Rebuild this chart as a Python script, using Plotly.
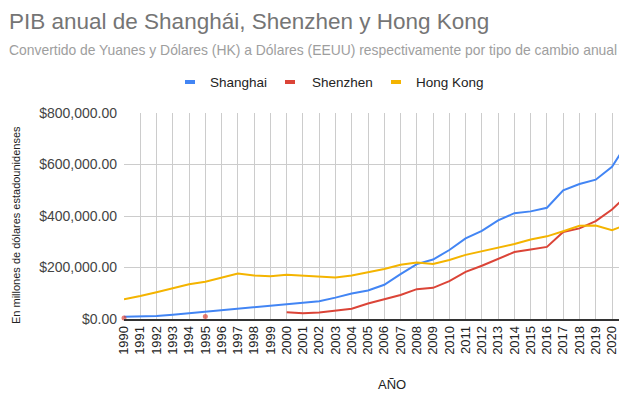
import plotly.graph_objects as go

# Annual GDP, millions of US dollars
years = list(range(1990, 2022))

shanghai = [9000, 10000, 12000, 16500, 22500, 29000, 35000, 41000, 46000, 51000,
            58000, 63000, 69000, 83000, 99000, 111000, 133000, 174000, 213000, 231000,
            268000, 313000, 342000, 383000, 411000, 418000, 432000, 500000, 524000, 541000,
            591000, 690000]

shenzhen = [4000, None, None, None, None, 10000, None, None, None, None,
            26500, 22000, 25000, 33000, 40000, 60000, 76000, 93000, 116000, 121000,
            147000, 183000, 207000, 235000, 260000, 270000, 280000, 338000, 352000, 380000,
            425000, 485000]

hong_kong = [77000, 89000, 104000, 120000, 135000, 145000, 160000, 177000, 169000, 166000,
             172000, 169000, 166000, 161000, 169000, 181000, 194000, 211000, 219000, 214000,
             229000, 249000, 263000, 276000, 291000, 309000, 321000, 341000, 362000, 363000,
             345000, 369000]

series = [
    ("Shanghai", shanghai, "#4285F4"),
    ("Shenzhen", shenzhen, "#DB4437"),
    ("Hong Kong", hong_kong, "#F4B400"),
]

W, H = 619, 394
ML, MR, MT, MB = 124, 0, 113, 75
PW, PH = W - ML - MR, H - MT - MB


def px(x):
    return (x - ML) / PW


def py(y):
    return (H - MB - y) / PH


def isolated_sizes(vals, size=5):
    out = []
    for i, v in enumerate(vals):
        prev_v = vals[i - 1] if i > 0 else None
        next_v = vals[i + 1] if i < len(vals) - 1 else None
        out.append(size if v is not None and prev_v is None and next_v is None else 0)
    return out


fig = go.Figure()
for name, vals, color in series:
    fig.add_trace(go.Scatter(
        x=years, y=vals, name=name, mode="lines+markers",
        line=dict(color=color, width=2),
        marker=dict(color=color, size=isolated_sizes(vals), line=dict(width=0)),
        connectgaps=False, showlegend=False, cliponaxis=False,
    ))


def note(text, x, y, size, color, family="Liberation Sans", xanchor="left", angle=0):
    return dict(text=text, x=px(x), y=py(y), xref="paper", yref="paper",
                xanchor=xanchor, yanchor="middle", showarrow=False, textangle=angle,
                font=dict(family=family, size=size, color=color))


annotations = [
    note("PIB anual de Shanghái, Shenzhen y Hong Kong", 7, 21, 22.5, "#757575"),
    note("Convertido de Yuanes y Dólares (HK) a Dólares (EEUU) respectivamente por tipo de cambio anual",
         7, 50, 13.9, "#9e9e9e"),
    note("AÑO", 392, 384, 13, "#222", xanchor="center"),
    note("En millones de dólares estadounidenses", 16, 225, 11, "#222", xanchor="center", angle=-90),
]

# Custom legend row
shapes = []
legend_items = [(190, 208), (290, 310), (396, 414)]
for (sw_x, tx_x), (name, _, color) in zip(legend_items, series):
    shapes.append(dict(type="rect", xref="paper", yref="paper",
                       x0=px(sw_x - 5), x1=px(sw_x + 5), y0=py(84), y1=py(80),
                       fillcolor=color, line=dict(width=0)))
    annotations.append(note(name, tx_x, 82, 13.5, "#222"))

fig.update_layout(
    width=W, height=H,
    margin=dict(l=ML, r=MR, t=MT, b=MB, pad=0),
    paper_bgcolor="white", plot_bgcolor="white",
    font=dict(family="Liberation Sans", size=13, color="#444"),
    annotations=annotations, shapes=shapes,
    xaxis=dict(range=[1990, 2020.43], dtick=1, tick0=1990, tickangle=-90,
               showgrid=True, gridcolor="#cccccc", gridwidth=1,
               showline=True, linecolor="#333333", linewidth=1.5,
               zeroline=False, ticks="", ticklabeloverflow="allow",
               tickfont=dict(size=13, color="#222")),
    yaxis=dict(range=[0, 800000], dtick=200000, tickformat="$,.2f",
               showgrid=True, gridcolor="#cccccc", gridwidth=1,
               zeroline=False, showline=False, ticks="", ticklabelstandoff=6,
               tickfont=dict(size=14, color="#444")),
)

fig.write_html("out.html")
